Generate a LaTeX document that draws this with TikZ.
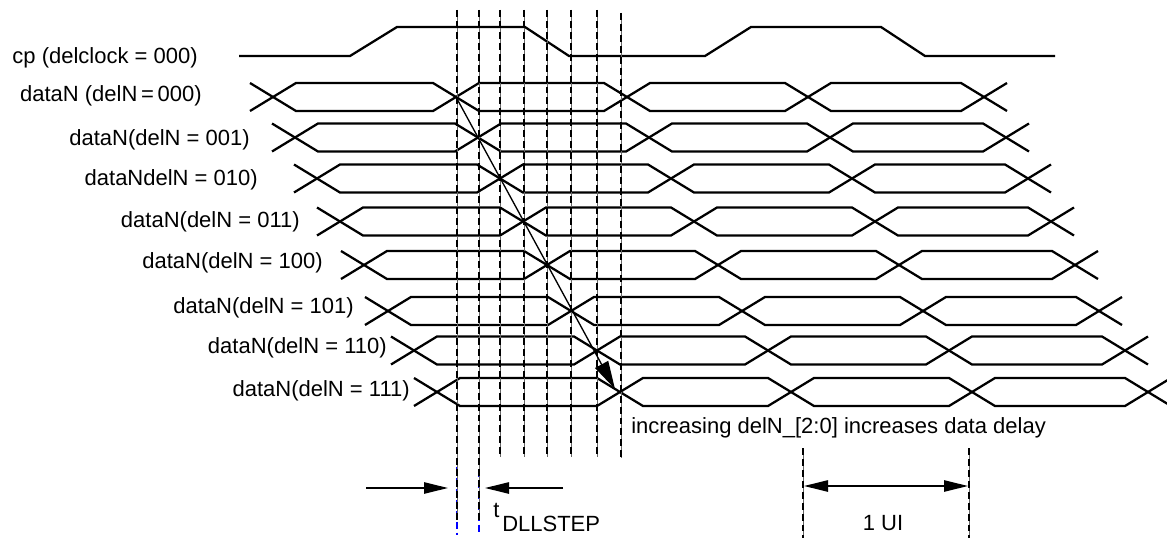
\documentclass[tikz,border=0pt]{standalone}
\usepackage{fontspec}
\setmainfont{Liberation Sans}
\usetikzlibrary{arrows.meta}
\begin{document}
\begin{tikzpicture}[x=0.75pt,y=-0.75pt,
  sig/.style={line width=1.7pt, line join=miter},
  lbl/.style={anchor=base east, inner sep=0pt, font=\fontsize{16.5}{20}\selectfont},
  txt/.style={inner sep=0pt, font=\fontsize{16.5}{20}\selectfont},
  guide/.style={line width=0.6pt, black!60},
  guidedash/.style={line width=2.2pt, dash pattern=on 5.2pt off 3pt},
  bluedash/.style={line width=1.8pt, blue, dash pattern=on 5.2pt off 3pt},
  tri/.tip={Triangle[length=18pt,width=8.5pt]},
  dim/.style={line width=1.1pt, -tri},
  dimboth/.style={line width=1.1pt, tri-tri},
]
\useasboundingbox (0,0) rectangle (1167,538);

% clock
\draw[sig] (239,56) -- (350,56) -- (397,27) -- (525,27) -- (569,56) -- (705,56)
  -- (751,27) -- (881,27) -- (925,56) -- (1055,56);

% data rows
\foreach \Y/\d in {97/0,137.5/22,178.5/44,221.5/67,265/91,311/115,350.5/141,392/164}{
  \draw[sig] ({250+\d},{\Y-14}) -- ({296+\d},{\Y+14}) -- ({433+\d},{\Y+14})
    -- ({479+\d},{\Y-14}) -- ({604+\d},{\Y-14}) -- ({650+\d},{\Y+14})
    -- ({785+\d},{\Y+14}) -- ({831+\d},{\Y-14}) -- ({961+\d},{\Y-14})
    -- ({1007+\d},{\Y+14});
  \draw[sig] ({250+\d},{\Y+14}) -- ({296+\d},{\Y-14}) -- ({433+\d},{\Y-14})
    -- ({479+\d},{\Y+14}) -- ({604+\d},{\Y+14}) -- ({650+\d},{\Y-14})
    -- ({785+\d},{\Y-14}) -- ({831+\d},{\Y+14}) -- ({961+\d},{\Y+14})
    -- ({1007+\d},{\Y-14});
}

% labels
\node[lbl] (Lcp) at (198,64) {cp (delclock = 000)};
\node[lbl] (L0) at (202,102) {dataN (delN\,=\,000)};
\node[lbl] (L1) at (250,146) {dataN(delN = 001)};
\node[lbl] (L2) at (258,186) {dataNdelN = 010)};
\node[lbl] (L3) at (300,228) {dataN(delN = 011)};
\node[lbl] (L4) at (323,269) {dataN(delN = 100)};
\node[lbl] (L5) at (354,313) {dataN(delN = 101)};
\node[lbl] (L6) at (387,353) {dataN(delN = 110)};
\node[lbl] (L7) at (410,396) {dataN(delN = 111)};

% blue dashed tails
\draw[bluedash] (457,467) -- (457,535);
\draw[bluedash] (479,470) -- (479,535);

% vertical dashed guides
\foreach \x in {457,479}{
  \draw[guide] (\x,10) -- (\x,520);
  \draw[guidedash] (\x,10) -- (\x,520);
}
\foreach \x in {500,524,547,571,597}{
  \draw[guide] (\x,10) -- (\x,457);
  \draw[guidedash] (\x,10) -- (\x,457);
}
\draw[guide] (621,13) -- (621,458);
\draw[guidedash] (621,13) -- (621,458);

% diagonal arrow
\coordinate (c0) at (456,97);
\coordinate (c7) at (615,389);
\draw[line width=1pt, -{Triangle[length=21pt,width=11pt]}] (c0) -- (c7);

\node[txt, anchor=base west] (inc) at (631,433) {increasing delN\_[2:0] increases data delay};

% tDLLSTEP
\coordinate (ta) at (366,488);
\coordinate (tae) at (448,488);
\coordinate (tb) at (563,488);
\coordinate (tbe) at (485,488);
\draw[dim] (ta) -- (tae);
\draw[dim] (tb) -- (tbe);
\node[txt, anchor=base west] (tt) at (493,517) {t};
\node[txt, anchor=base west] (tsub) at (502,531) {DLLSTEP};

% 1 UI
\draw[guide] (803,448) -- (803,538);
\draw[guidedash] (803,448) -- (803,538);
\draw[guide] (969,448) -- (969,538);
\draw[guidedash] (969,448) -- (969,538);
\coordinate (ua) at (804,486);
\coordinate (ub) at (968,486);
\draw[dimboth] (ua) -- (ub);
\node[txt, anchor=base] (ui) at (883,530) {1 UI};
\end{tikzpicture}
\end{document}
